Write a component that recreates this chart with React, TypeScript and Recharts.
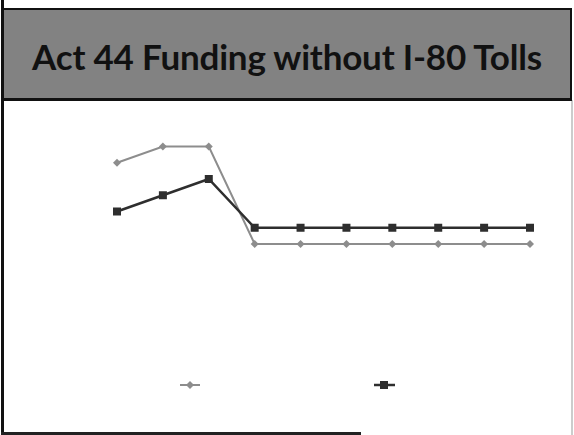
import { LineChart, Line, XAxis, YAxis } from "recharts";

// Fiscal years (axis is hidden in the original slide)
const years = [
  "2007-08",
  "2008-09",
  "2009-10",
  "2010-11",
  "2011-12",
  "2012-13",
  "2013-14",
  "2014-15",
  "2015-16",
  "2016-17",
];
// $ millions
const highways = [450, 500, 500, 200, 200, 200, 200, 200, 200, 200];
const transit = [300, 350, 400, 250, 250, 250, 250, 250, 250, 250];

const LIGHT = "#8d8d8d";
const DARK = "#2e2e2e";

const data = years.map((year, i) => ({
  year,
  highways: highways[i],
  transit: transit[i],
}));

function Diamond(props: any) {
  const { cx, cy } = props;
  if (cx == null || cy == null) return null;
  const r = 4;
  return (
    <polygon
      points={`${cx},${cy - r} ${cx + r},${cy} ${cx},${cy + r} ${cx - r},${cy}`}
      fill={LIGHT}
    />
  );
}

function Square(props: any) {
  const { cx, cy } = props;
  if (cx == null || cy == null) return null;
  const s = 8;
  return <rect x={cx - s / 2} y={cy - s / 2} width={s} height={s} fill={DARK} />;
}

export default function App() {
  return (
    <div
      style={{
        position: "absolute",
        left: 0,
        top: 0,
        width: 574,
        height: 435,
        background: "#fff",
        overflow: "hidden",
        fontFamily: "Lato, sans-serif",
      }}
    >
      {/* slide edges */}
      <div style={{ position: "absolute", left: 1, top: 0, width: 3, height: 435, background: "#111" }} />
      <div style={{ position: "absolute", left: 1, top: 432, width: 360, height: 3, background: "#222" }} />
      <div style={{ position: "absolute", left: 571, top: 100, width: 2, height: 335, background: "#ccc" }} />

      {/* title banner */}
      <div
        style={{
          position: "absolute",
          left: 2,
          top: 8,
          width: 566,
          height: 88,
          background: "#828282",
          border: "2px solid #111",
          borderBottomWidth: 3,
          display: "flex",
          alignItems: "center",
          justifyContent: "center",
        }}
      >
        <span style={{ fontSize: 35, fontWeight: 700, color: "#111", letterSpacing: -0.2, marginTop: 4 }}>
          Act 44 Funding without I-80 Tolls
        </span>
      </div>

      <div style={{ position: "absolute", left: 0, top: 0 }}>
        <LineChart
          width={574}
          height={435}
          data={data}
          margin={{ top: 114, right: 44, bottom: 126, left: 117 }}
        >
          <XAxis dataKey="year" hide />
          <YAxis hide domain={[0, 600]} />
          <Line
            dataKey="highways"
            name="Highways & Bridges"
            stroke={LIGHT}
            strokeWidth={2}
            dot={<Diamond />}
            activeDot={false}
            isAnimationActive={false}
          />
          <Line
            dataKey="transit"
            name="Transit"
            stroke={DARK}
            strokeWidth={2.5}
            dot={<Square />}
            activeDot={false}
            isAnimationActive={false}
          />
        </LineChart>
      </div>

      {/* legend (labels washed out in the original scan) */}
      <svg style={{ position: "absolute", left: 0, top: 377 }} width={574} height={16}>
        <line x1={180} x2={200} y1={8} y2={8} stroke={LIGHT} strokeWidth={2} />
        <polygon points="190,4 194,8 190,12 186,8" fill={LIGHT} />
        <line x1={374} x2={395} y1={8} y2={8} stroke={DARK} strokeWidth={2.5} />
        <rect x={380} y={4} width={8} height={8} fill={DARK} />
      </svg>
    </div>
  );
}
